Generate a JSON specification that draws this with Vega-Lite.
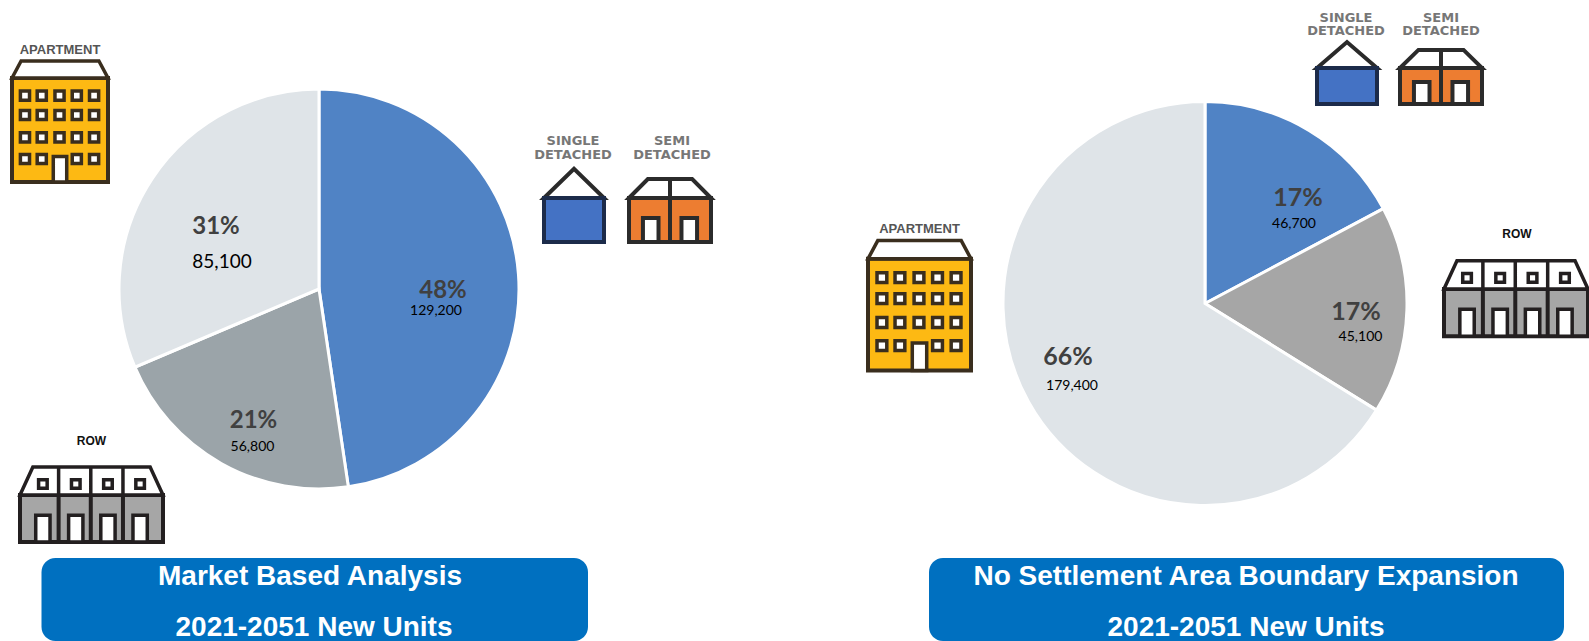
{"$schema":"https://vega.github.io/schema/vega-lite/v6.json","width":1589,"height":641,"padding":0,"autosize":{"type":"none"},"background":"white","config":{"view":{"stroke":null},"axis":{"disable":true},"legend":{"disable":true}},"data":{"values":[{"panel":"market","scenario":"Market Based Analysis","unit":"Single and semi-detached","rank":1,"units":129200,"share":"48%"},{"panel":"market","scenario":"Market Based Analysis","unit":"Row","rank":2,"units":56800,"share":"21%"},{"panel":"market","scenario":"Market Based Analysis","unit":"Apartment","rank":3,"units":85100,"share":"31%"},{"panel":"noexp","scenario":"No Settlement Area Boundary Expansion","unit":"Single and semi-detached","rank":1,"units":46700,"share":"17%"},{"panel":"noexp","scenario":"No Settlement Area Boundary Expansion","unit":"Row","rank":2,"units":45100,"share":"17%"},{"panel":"noexp","scenario":"No Settlement Area Boundary Expansion","unit":"Apartment","rank":3,"units":179400,"share":"66%"}]},"resolve":{"scale":{"theta":"independent","color":"independent"}},"layer":[
{"transform":[{"filter":"datum.panel=='market'"}],"mark":{"type":"arc","outerRadius":200,"stroke":"white","strokeWidth":3},"encoding":{"x":{"datum":319,"scale":{"domain":[0,1589],"nice":false}},"y":{"datum":289,"scale":{"domain":[641,0],"nice":false}},"theta":{"field":"units","type":"quantitative","stack":true},"order":{"field":"rank"},"color":{"field":"unit","type":"nominal","scale":{"domain":["Single and semi-detached","Row","Apartment"],"range":["#5083C5","#9BA4A9","#DFE4E8"]}}}},
{"transform":[{"filter":"datum.panel=='noexp'"}],"mark":{"type":"arc","outerRadius":202,"stroke":"white","strokeWidth":3},"encoding":{"x":{"datum":1205},"y":{"datum":303.5},"theta":{"field":"units","type":"quantitative","stack":true},"order":{"field":"rank"},"color":{"field":"unit","type":"nominal","scale":{"domain":["Single and semi-detached","Row","Apartment"],"range":["#5083C5","#A6A6A6","#DFE4E8"]}}}},

{"transform":[{"filter":"datum.panel=='market'&&datum.unit=='Single and semi-detached'"}],"mark":{"type":"text","font":"Lato","fontWeight":"bold","fontSize":24,"fill":"#404040"},"encoding":{"x":{"datum":443},"y":{"datum":291},"text":{"field":"share"}}},
{"transform":[{"filter":"datum.panel=='market'&&datum.unit=='Row'"}],"mark":{"type":"text","font":"Lato","fontWeight":"bold","fontSize":24,"fill":"#404040"},"encoding":{"x":{"datum":253.5},"y":{"datum":420.5},"text":{"field":"share"}}},
{"transform":[{"filter":"datum.panel=='market'&&datum.unit=='Apartment'"}],"mark":{"type":"text","font":"Lato","fontWeight":"bold","fontSize":24,"fill":"#404040"},"encoding":{"x":{"datum":216},"y":{"datum":227},"text":{"field":"share"}}},
{"transform":[{"filter":"datum.panel=='market'&&datum.unit=='Single and semi-detached'"}],"mark":{"type":"text","font":"Lato","fontSize":14,"fill":"#000000"},"encoding":{"x":{"datum":436},"y":{"datum":311},"text":{"field":"units","format":","}}},
{"transform":[{"filter":"datum.panel=='market'&&datum.unit=='Row'"}],"mark":{"type":"text","font":"Lato","fontSize":14,"fill":"#000000"},"encoding":{"x":{"datum":252.5},"y":{"datum":447},"text":{"field":"units","format":","}}},
{"transform":[{"filter":"datum.panel=='market'&&datum.unit=='Apartment'"}],"mark":{"type":"text","font":"Lato","fontSize":19,"fill":"#000000"},"encoding":{"x":{"datum":222},"y":{"datum":261.5},"text":{"field":"units","format":","}}},
{"transform":[{"filter":"datum.panel=='noexp'&&datum.unit=='Single and semi-detached'"}],"mark":{"type":"text","font":"Lato","fontWeight":"bold","fontSize":25,"fill":"#404040"},"encoding":{"x":{"datum":1298},"y":{"datum":197.5},"text":{"field":"share"}}},
{"transform":[{"filter":"datum.panel=='noexp'&&datum.unit=='Row'"}],"mark":{"type":"text","font":"Lato","fontWeight":"bold","fontSize":25,"fill":"#404040"},"encoding":{"x":{"datum":1356},"y":{"datum":312},"text":{"field":"share"}}},
{"transform":[{"filter":"datum.panel=='noexp'&&datum.unit=='Apartment'"}],"mark":{"type":"text","font":"Lato","fontWeight":"bold","fontSize":25,"fill":"#404040"},"encoding":{"x":{"datum":1068},"y":{"datum":356.5},"text":{"field":"share"}}},
{"transform":[{"filter":"datum.panel=='noexp'&&datum.unit=='Single and semi-detached'"}],"mark":{"type":"text","font":"Lato","fontSize":14,"fill":"#000000"},"encoding":{"x":{"datum":1294},"y":{"datum":224},"text":{"field":"units","format":","}}},
{"transform":[{"filter":"datum.panel=='noexp'&&datum.unit=='Row'"}],"mark":{"type":"text","font":"Lato","fontSize":14,"fill":"#000000"},"encoding":{"x":{"datum":1360.5},"y":{"datum":336.5},"text":{"field":"units","format":","}}},
{"transform":[{"filter":"datum.panel=='noexp'&&datum.unit=='Apartment'"}],"mark":{"type":"text","font":"Lato","fontSize":14,"fill":"#000000"},"encoding":{"x":{"datum":1072},"y":{"datum":386},"text":{"field":"units","format":","}}},

{"transform":[{"filter":"datum.panel=='market'&&datum.unit=='Apartment'"}],"mark":{"type":"point","opacity":1,"filled":true,"fill":"#FDB913","stroke":"#3A2E1E","strokeWidth":4,"size":9216,"shape":"M-1,-0.906H1V1.26H-1Z"},"encoding":{"x":{"datum":60},"y":{"datum":121.5}}},
{"transform":[{"filter":"datum.panel=='market'&&datum.unit=='Apartment'"}],"mark":{"type":"point","opacity":1,"filled":true,"fill":"#FFFFFF","stroke":"#3A2E1E","strokeWidth":3.5,"size":9216,"shape":"M-1,-0.906L-0.81,-1.26H0.81L1,-0.906Z M-0.825,-0.635H-0.635V-0.445H-0.825Z M-0.475,-0.635H-0.285V-0.445H-0.475Z M-0.105,-0.635H0.085V-0.445H-0.105Z M0.255,-0.635H0.445V-0.445H0.255Z M0.615,-0.635H0.805V-0.445H0.615Z M-0.825,-0.23H-0.635V-0.04H-0.825Z M-0.475,-0.23H-0.285V-0.04H-0.475Z M-0.105,-0.23H0.085V-0.04H-0.105Z M0.255,-0.23H0.445V-0.04H0.255Z M0.615,-0.23H0.805V-0.04H0.615Z M-0.825,0.235H-0.635V0.425H-0.825Z M-0.475,0.235H-0.285V0.425H-0.475Z M-0.105,0.235H0.085V0.425H-0.105Z M0.255,0.235H0.445V0.425H0.255Z M0.615,0.235H0.805V0.425H0.615Z M-0.825,0.685H-0.635V0.875H-0.825Z M-0.475,0.685H-0.285V0.875H-0.475Z M0.255,0.685H0.445V0.875H0.255Z M0.615,0.685H0.805V0.875H0.615Z M-0.14,1.26V0.73H0.14V1.26Z"},"encoding":{"x":{"datum":60},"y":{"datum":121.5}}},
{"transform":[{"filter":"datum.panel=='noexp'&&datum.unit=='Apartment'"}],"mark":{"type":"point","opacity":1,"filled":true,"fill":"#FDB913","stroke":"#3A2E1E","strokeWidth":4,"size":10609,"shape":"M-1,-0.906H1V1.26H-1Z"},"encoding":{"x":{"datum":919.5},"y":{"datum":305.5}}},
{"transform":[{"filter":"datum.panel=='noexp'&&datum.unit=='Apartment'"}],"mark":{"type":"point","opacity":1,"filled":true,"fill":"#FFFFFF","stroke":"#3A2E1E","strokeWidth":3.5,"size":10609,"shape":"M-1,-0.906L-0.81,-1.26H0.81L1,-0.906Z M-0.825,-0.635H-0.635V-0.445H-0.825Z M-0.475,-0.635H-0.285V-0.445H-0.475Z M-0.105,-0.635H0.085V-0.445H-0.105Z M0.255,-0.635H0.445V-0.445H0.255Z M0.615,-0.635H0.805V-0.445H0.615Z M-0.825,-0.23H-0.635V-0.04H-0.825Z M-0.475,-0.23H-0.285V-0.04H-0.475Z M-0.105,-0.23H0.085V-0.04H-0.105Z M0.255,-0.23H0.445V-0.04H0.255Z M0.615,-0.23H0.805V-0.04H0.615Z M-0.825,0.235H-0.635V0.425H-0.825Z M-0.475,0.235H-0.285V0.425H-0.475Z M-0.105,0.235H0.085V0.425H-0.105Z M0.255,0.235H0.445V0.425H0.255Z M0.615,0.235H0.805V0.425H0.615Z M-0.825,0.685H-0.635V0.875H-0.825Z M-0.475,0.685H-0.285V0.875H-0.475Z M0.255,0.685H0.445V0.875H0.255Z M0.615,0.685H0.805V0.875H0.615Z M-0.14,1.26V0.73H0.14V1.26Z"},"encoding":{"x":{"datum":919.5},"y":{"datum":305.5}}},

{"transform":[{"filter":"datum.panel=='market'&&datum.unit=='Row'"}],"mark":{"type":"point","opacity":1,"filled":true,"fill":"#A6A6A6","stroke":"#231F20","strokeWidth":4,"size":20449,"shape":"M-1,-0.133H1V0.524H-1Z M-0.46,-0.133V0.524 M-0.01,-0.133V0.524 M0.44,-0.133V0.524"},"encoding":{"x":{"datum":91.5},"y":{"datum":504.5}}},
{"transform":[{"filter":"datum.panel=='market'&&datum.unit=='Row'"}],"mark":{"type":"point","opacity":1,"filled":true,"fill":"#FFFFFF","stroke":"#231F20","strokeWidth":3.5,"size":20449,"shape":"M-1,-0.133L-0.82,-0.524H0.82L1,-0.133Z M-0.46,-0.524V-0.133 M-0.01,-0.524V-0.133 M0.44,-0.524V-0.133 M-0.74,-0.347H-0.62V-0.227H-0.74Z M-0.28,-0.347H-0.16V-0.227H-0.28Z M0.17,-0.347H0.29V-0.227H0.17Z M0.62,-0.347H0.74V-0.227H0.62Z M-0.78,0.524V0.15H-0.58V0.524Z M-0.32,0.524V0.15H-0.12V0.524Z M0.13,0.524V0.15H0.33V0.524Z M0.58,0.524V0.15H0.78V0.524Z"},"encoding":{"x":{"datum":91.5},"y":{"datum":504.5}}},
{"transform":[{"filter":"datum.panel=='noexp'&&datum.unit=='Row'"}],"mark":{"type":"point","opacity":1,"filled":true,"fill":"#A6A6A6","stroke":"#231F20","strokeWidth":4,"size":20736,"shape":"M-1,-0.133H1V0.524H-1Z M-0.46,-0.133V0.524 M-0.01,-0.133V0.524 M0.44,-0.133V0.524"},"encoding":{"x":{"datum":1516},"y":{"datum":298.5}}},
{"transform":[{"filter":"datum.panel=='noexp'&&datum.unit=='Row'"}],"mark":{"type":"point","opacity":1,"filled":true,"fill":"#FFFFFF","stroke":"#231F20","strokeWidth":3.5,"size":20736,"shape":"M-1,-0.133L-0.82,-0.524H0.82L1,-0.133Z M-0.46,-0.524V-0.133 M-0.01,-0.524V-0.133 M0.44,-0.524V-0.133 M-0.74,-0.347H-0.62V-0.227H-0.74Z M-0.28,-0.347H-0.16V-0.227H-0.28Z M0.17,-0.347H0.29V-0.227H0.17Z M0.62,-0.347H0.74V-0.227H0.62Z M-0.78,0.524V0.15H-0.58V0.524Z M-0.32,0.524V0.15H-0.12V0.524Z M0.13,0.524V0.15H0.33V0.524Z M0.58,0.524V0.15H0.78V0.524Z"},"encoding":{"x":{"datum":1516},"y":{"datum":298.5}}},

{"transform":[{"filter":"datum.panel=='market'&&datum.rank==1"}],"mark":{"type":"point","opacity":1,"filled":true,"fill":"#FFFFFF","stroke":"#2A2A2A","strokeWidth":4,"size":3600,"shape":"M-1,-0.25L0,-1.22L1,-0.25Z"},"encoding":{"x":{"datum":574},"y":{"datum":205.5}}},
{"transform":[{"filter":"datum.panel=='market'&&datum.rank==1"}],"mark":{"type":"point","opacity":1,"filled":true,"fill":"#4472C4","stroke":"#1C2B4A","strokeWidth":4,"size":3600,"shape":"M-1,-0.25H1V1.22H-1Z"},"encoding":{"x":{"datum":574},"y":{"datum":205.5}}},
{"transform":[{"filter":"datum.panel=='noexp'&&datum.rank==1"}],"mark":{"type":"point","opacity":1,"filled":true,"fill":"#FFFFFF","stroke":"#2A2A2A","strokeWidth":4,"size":3600,"shape":"M-1,-0.167L0,-1.03L1,-0.167Z"},"encoding":{"x":{"datum":1347},"y":{"datum":73}}},
{"transform":[{"filter":"datum.panel=='noexp'&&datum.rank==1"}],"mark":{"type":"point","opacity":1,"filled":true,"fill":"#4472C4","stroke":"#1C2B4A","strokeWidth":4,"size":3600,"shape":"M-1,-0.167H1V1.03H-1Z"},"encoding":{"x":{"datum":1347},"y":{"datum":73}}},

{"transform":[{"filter":"datum.panel=='market'&&datum.rank==1"}],"mark":{"type":"point","opacity":1,"filled":true,"fill":"#ED7D31","stroke":"#2B2B2B","strokeWidth":4,"size":6724,"shape":"M-1,-0.305H1V0.768H-1Z M0,-0.305V0.768"},"encoding":{"x":{"datum":670},"y":{"datum":210.5}}},
{"transform":[{"filter":"datum.panel=='market'&&datum.rank==1"}],"mark":{"type":"point","opacity":1,"filled":true,"fill":"#FFFFFF","stroke":"#2B2B2B","strokeWidth":4,"size":6724,"shape":"M-1,-0.305L-0.54,-0.768H0.54L1,-0.305Z M0,-0.768V-0.305 M-0.66,0.768V0.18H-0.28V0.768Z M0.28,0.768V0.18H0.66V0.768Z"},"encoding":{"x":{"datum":670},"y":{"datum":210.5}}},
{"transform":[{"filter":"datum.panel=='noexp'&&datum.rank==1"}],"mark":{"type":"point","opacity":1,"filled":true,"fill":"#ED7D31","stroke":"#2B2B2B","strokeWidth":4,"size":6724,"shape":"M-1,-0.22H1V0.66H-1Z M0,-0.22V0.66"},"encoding":{"x":{"datum":1441},"y":{"datum":77}}},
{"transform":[{"filter":"datum.panel=='noexp'&&datum.rank==1"}],"mark":{"type":"point","opacity":1,"filled":true,"fill":"#FFFFFF","stroke":"#2B2B2B","strokeWidth":4,"size":6724,"shape":"M-1,-0.22L-0.55,-0.66H0.55L1,-0.22Z M0,-0.66V-0.22 M-0.66,0.66V0.12H-0.28V0.66Z M0.28,0.66V0.12H0.66V0.66Z"},"encoding":{"x":{"datum":1441},"y":{"datum":77}}},

{"transform":[{"filter":"datum.panel=='market'&&datum.rank==1"}],"mark":{"type":"text","text":"APARTMENT","font":"Liberation Sans","fontWeight":"bold","fontSize":13,"fill":"#555555"},"encoding":{"x":{"datum":60},"y":{"datum":49.5}}},
{"transform":[{"filter":"datum.panel=='noexp'&&datum.rank==1"}],"mark":{"type":"text","text":"APARTMENT","font":"Liberation Sans","fontWeight":"bold","fontSize":13,"fill":"#555555"},"encoding":{"x":{"datum":919.5},"y":{"datum":229}}},
{"transform":[{"filter":"datum.panel=='market'&&datum.rank==1"}],"mark":{"type":"text","text":"ROW","font":"Liberation Sans","fontWeight":"bold","fontSize":12,"fill":"#111111"},"encoding":{"x":{"datum":91.5},"y":{"datum":441}}},
{"transform":[{"filter":"datum.panel=='noexp'&&datum.rank==1"}],"mark":{"type":"text","text":"ROW","font":"Liberation Sans","fontWeight":"bold","fontSize":12,"fill":"#111111"},"encoding":{"x":{"datum":1517},"y":{"datum":234}}},
{"transform":[{"filter":"datum.panel=='market'&&datum.rank==1"}],"mark":{"type":"text","text":["SINGLE","DETACHED"],"lineHeight":13.5,"font":"DejaVu Sans","fontWeight":"bold","fontSize":13,"fill":"#777777"},"encoding":{"x":{"datum":573},"y":{"datum":141}}},
{"transform":[{"filter":"datum.panel=='market'&&datum.rank==1"}],"mark":{"type":"text","text":["SEMI","DETACHED"],"lineHeight":13.5,"font":"DejaVu Sans","fontWeight":"bold","fontSize":13,"fill":"#777777"},"encoding":{"x":{"datum":672},"y":{"datum":141}}},
{"transform":[{"filter":"datum.panel=='noexp'&&datum.rank==1"}],"mark":{"type":"text","text":["SINGLE","DETACHED"],"lineHeight":13.5,"font":"DejaVu Sans","fontWeight":"bold","fontSize":13,"fill":"#777777"},"encoding":{"x":{"datum":1346},"y":{"datum":17.5}}},
{"transform":[{"filter":"datum.panel=='noexp'&&datum.rank==1"}],"mark":{"type":"text","text":["SEMI","DETACHED"],"lineHeight":13.5,"font":"DejaVu Sans","fontWeight":"bold","fontSize":13,"fill":"#777777"},"encoding":{"x":{"datum":1441},"y":{"datum":17.5}}},

{"transform":[{"filter":"datum.panel=='market'&&datum.rank==1"}],"mark":{"type":"rect","fill":"#0070C0","cornerRadius":14},"encoding":{"x":{"datum":41.5},"x2":{"datum":588},"y":{"datum":558},"y2":{"datum":641}}},
{"transform":[{"filter":"datum.panel=='noexp'&&datum.rank==1"}],"mark":{"type":"rect","fill":"#0070C0","cornerRadius":14},"encoding":{"x":{"datum":929},"x2":{"datum":1564},"y":{"datum":558},"y2":{"datum":641}}},
{"transform":[{"filter":"datum.panel=='market'&&datum.rank==1"}],"mark":{"type":"text","font":"Liberation Sans","fontWeight":"bold","fontSize":28,"fill":"white"},"encoding":{"x":{"datum":310},"y":{"datum":577},"text":{"field":"scenario"}}},
{"transform":[{"filter":"datum.panel=='market'&&datum.rank==1"}],"mark":{"type":"text","text":"2021-2051 New Units","font":"Liberation Sans","fontWeight":"bold","fontSize":28,"fill":"white"},"encoding":{"x":{"datum":314},"y":{"datum":628}}},
{"transform":[{"filter":"datum.panel=='noexp'&&datum.rank==1"}],"mark":{"type":"text","font":"Liberation Sans","fontWeight":"bold","fontSize":28,"fill":"white"},"encoding":{"x":{"datum":1246},"y":{"datum":577},"text":{"field":"scenario"}}},
{"transform":[{"filter":"datum.panel=='noexp'&&datum.rank==1"}],"mark":{"type":"text","text":"2021-2051 New Units","font":"Liberation Sans","fontWeight":"bold","fontSize":28,"fill":"white"},"encoding":{"x":{"datum":1246},"y":{"datum":628}}}
]}
